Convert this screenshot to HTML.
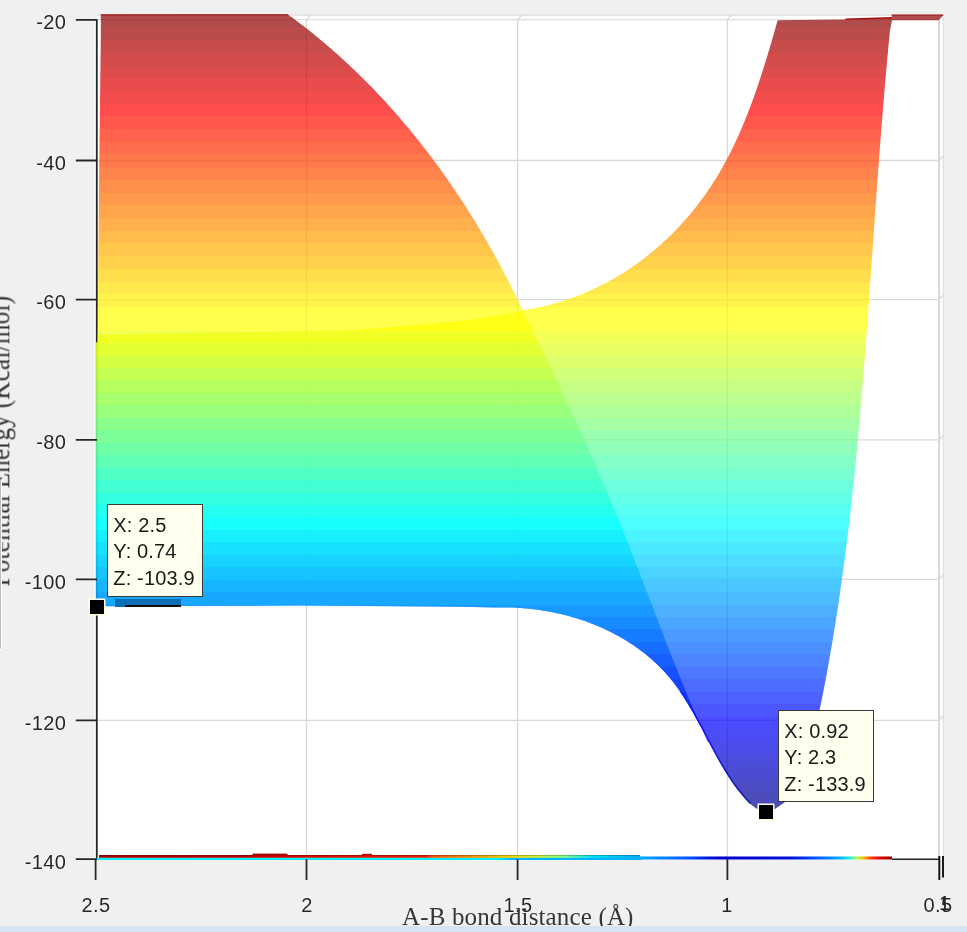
<!DOCTYPE html>
<html><head><meta charset="utf-8"><style>
html,body{margin:0;padding:0;background:#f0f0f0;}
body{width:967px;height:932px;position:relative;overflow:hidden;font-family:"Liberation Sans",sans-serif;}
.yl{position:absolute;left:0;width:66.3px;text-align:right;font-size:20px;letter-spacing:0.35px;line-height:24px;color:#262626;will-change:transform;text-shadow:0 0 1.2px #fff,0 0 1.2px #fff}
.xl{position:absolute;top:892.5px;width:80px;text-align:center;font-size:20px;letter-spacing:0.35px;line-height:24px;color:#262626;will-change:transform;text-shadow:0 0 1.2px #fff,0 0 1.2px #fff}
.tip{position:absolute;background:#ffffee;border:1px solid #3a3a3a;box-sizing:border-box;font-size:20px;letter-spacing:0.15px;line-height:26.7px;color:#1a1a1a;padding-left:5.3px;will-change:transform}
.mk{position:absolute;width:14px;height:14px;background:#000;box-shadow:0 0 0 1.5px #ffffe0;}
</style></head><body>
<svg width="967" height="932" viewBox="0 0 967 932" style="position:absolute;left:0;top:0"><defs><linearGradient id="jet" gradientUnits="userSpaceOnUse" x1="0" y1="0.0" x2="0" y2="830.00"><stop offset="0.00000" stop-color="#800000"/><stop offset="0.01783" stop-color="#800000"/><stop offset="0.01783" stop-color="#8f0000"/><stop offset="0.03313" stop-color="#8f0000"/><stop offset="0.03313" stop-color="#9f0000"/><stop offset="0.04843" stop-color="#9f0000"/><stop offset="0.04843" stop-color="#af0000"/><stop offset="0.06373" stop-color="#af0000"/><stop offset="0.06373" stop-color="#bf0000"/><stop offset="0.07904" stop-color="#bf0000"/><stop offset="0.07904" stop-color="#cf0000"/><stop offset="0.09434" stop-color="#cf0000"/><stop offset="0.09434" stop-color="#df0000"/><stop offset="0.10964" stop-color="#df0000"/><stop offset="0.10964" stop-color="#ef0000"/><stop offset="0.12494" stop-color="#ef0000"/><stop offset="0.12494" stop-color="#ff0000"/><stop offset="0.14024" stop-color="#ff0000"/><stop offset="0.14024" stop-color="#ff1000"/><stop offset="0.15554" stop-color="#ff1000"/><stop offset="0.15554" stop-color="#ff2000"/><stop offset="0.17084" stop-color="#ff2000"/><stop offset="0.17084" stop-color="#ff3000"/><stop offset="0.18614" stop-color="#ff3000"/><stop offset="0.18614" stop-color="#ff4000"/><stop offset="0.20145" stop-color="#ff4000"/><stop offset="0.20145" stop-color="#ff5000"/><stop offset="0.21675" stop-color="#ff5000"/><stop offset="0.21675" stop-color="#ff6000"/><stop offset="0.23205" stop-color="#ff6000"/><stop offset="0.23205" stop-color="#ff7000"/><stop offset="0.24735" stop-color="#ff7000"/><stop offset="0.24735" stop-color="#ff8000"/><stop offset="0.26265" stop-color="#ff8000"/><stop offset="0.26265" stop-color="#ff8f00"/><stop offset="0.27795" stop-color="#ff8f00"/><stop offset="0.27795" stop-color="#ff9f00"/><stop offset="0.29325" stop-color="#ff9f00"/><stop offset="0.29325" stop-color="#ffaf00"/><stop offset="0.30855" stop-color="#ffaf00"/><stop offset="0.30855" stop-color="#ffbf00"/><stop offset="0.32386" stop-color="#ffbf00"/><stop offset="0.32386" stop-color="#ffcf00"/><stop offset="0.33916" stop-color="#ffcf00"/><stop offset="0.33916" stop-color="#ffdf00"/><stop offset="0.35446" stop-color="#ffdf00"/><stop offset="0.35446" stop-color="#ffef00"/><stop offset="0.36976" stop-color="#ffef00"/><stop offset="0.36976" stop-color="#ffff00"/><stop offset="0.39843" stop-color="#ffff00"/><stop offset="0.39843" stop-color="#efff10"/><stop offset="0.41343" stop-color="#efff10"/><stop offset="0.41343" stop-color="#dfff20"/><stop offset="0.42843" stop-color="#dfff20"/><stop offset="0.42843" stop-color="#cfff30"/><stop offset="0.44343" stop-color="#cfff30"/><stop offset="0.44343" stop-color="#bfff40"/><stop offset="0.45843" stop-color="#bfff40"/><stop offset="0.45843" stop-color="#afff50"/><stop offset="0.47343" stop-color="#afff50"/><stop offset="0.47343" stop-color="#9fff60"/><stop offset="0.48843" stop-color="#9fff60"/><stop offset="0.48843" stop-color="#8fff70"/><stop offset="0.50343" stop-color="#8fff70"/><stop offset="0.50343" stop-color="#80ff80"/><stop offset="0.51843" stop-color="#80ff80"/><stop offset="0.51843" stop-color="#70ff8f"/><stop offset="0.53343" stop-color="#70ff8f"/><stop offset="0.53343" stop-color="#60ff9f"/><stop offset="0.54843" stop-color="#60ff9f"/><stop offset="0.54843" stop-color="#50ffaf"/><stop offset="0.56343" stop-color="#50ffaf"/><stop offset="0.56343" stop-color="#40ffbf"/><stop offset="0.57843" stop-color="#40ffbf"/><stop offset="0.57843" stop-color="#30ffcf"/><stop offset="0.59343" stop-color="#30ffcf"/><stop offset="0.59343" stop-color="#20ffdf"/><stop offset="0.60843" stop-color="#20ffdf"/><stop offset="0.60843" stop-color="#10ffef"/><stop offset="0.62343" stop-color="#10ffef"/><stop offset="0.62343" stop-color="#00ffff"/><stop offset="0.63843" stop-color="#00ffff"/><stop offset="0.63843" stop-color="#00efff"/><stop offset="0.65343" stop-color="#00efff"/><stop offset="0.65343" stop-color="#00dfff"/><stop offset="0.66843" stop-color="#00dfff"/><stop offset="0.66843" stop-color="#00cfff"/><stop offset="0.68343" stop-color="#00cfff"/><stop offset="0.68343" stop-color="#00bfff"/><stop offset="0.69843" stop-color="#00bfff"/><stop offset="0.69843" stop-color="#00afff"/><stop offset="0.71343" stop-color="#00afff"/><stop offset="0.71343" stop-color="#009fff"/><stop offset="0.72843" stop-color="#009fff"/><stop offset="0.72843" stop-color="#008fff"/><stop offset="0.74343" stop-color="#008fff"/><stop offset="0.74343" stop-color="#0080ff"/><stop offset="0.75843" stop-color="#0080ff"/><stop offset="0.75843" stop-color="#0070ff"/><stop offset="0.77343" stop-color="#0070ff"/><stop offset="0.77343" stop-color="#0060ff"/><stop offset="0.78843" stop-color="#0060ff"/><stop offset="0.78843" stop-color="#0050ff"/><stop offset="0.80343" stop-color="#0050ff"/><stop offset="0.80343" stop-color="#0040ff"/><stop offset="0.81843" stop-color="#0040ff"/><stop offset="0.81843" stop-color="#0030ff"/><stop offset="0.83343" stop-color="#0030ff"/><stop offset="0.83343" stop-color="#0020ff"/><stop offset="0.84843" stop-color="#0020ff"/><stop offset="0.84843" stop-color="#0010ff"/><stop offset="0.86343" stop-color="#0010ff"/><stop offset="0.86343" stop-color="#0000ff"/><stop offset="0.87843" stop-color="#0000ff"/><stop offset="0.87843" stop-color="#0000ef"/><stop offset="0.89343" stop-color="#0000ef"/><stop offset="0.89343" stop-color="#0000df"/><stop offset="0.90843" stop-color="#0000df"/><stop offset="0.90843" stop-color="#0000cf"/><stop offset="0.92343" stop-color="#0000cf"/><stop offset="0.92343" stop-color="#0000bf"/><stop offset="0.93843" stop-color="#0000bf"/><stop offset="0.93843" stop-color="#0000af"/><stop offset="0.95343" stop-color="#0000af"/><stop offset="0.95343" stop-color="#00009f"/><stop offset="0.96843" stop-color="#00009f"/><stop offset="0.96843" stop-color="#00008f"/><stop offset="1.00000" stop-color="#00008f"/></linearGradient><linearGradient id="bl" gradientUnits="userSpaceOnUse" x1="99" y1="0" x2="892" y2="0"><stop offset="0.0000" stop-color="#b00000"/><stop offset="0.1904" stop-color="#c00000"/><stop offset="0.2535" stop-color="#d80800"/><stop offset="0.4124" stop-color="#e82000"/><stop offset="0.4199" stop-color="#f85000"/><stop offset="0.4729" stop-color="#fa9000"/><stop offset="0.5221" stop-color="#f0d800"/><stop offset="0.5561" stop-color="#c0f040"/><stop offset="0.5876" stop-color="#80ff80"/><stop offset="0.6217" stop-color="#00e0ff"/><stop offset="0.6570" stop-color="#00c0ff"/><stop offset="0.6822" stop-color="#00a8ff"/><stop offset="0.7137" stop-color="#0080ff"/><stop offset="0.7453" stop-color="#0050ff"/><stop offset="0.7642" stop-color="#0020e0"/><stop offset="0.7831" stop-color="#0000d0"/><stop offset="0.8726" stop-color="#0010d8"/><stop offset="0.9029" stop-color="#0050ff"/><stop offset="0.9319" stop-color="#00a8ff"/><stop offset="0.9470" stop-color="#20f0e0"/><stop offset="0.9559" stop-color="#b0ff40"/><stop offset="0.9647" stop-color="#ffb000"/><stop offset="0.9748" stop-color="#ff3000"/><stop offset="0.9874" stop-color="#d00000"/><stop offset="1.0000" stop-color="#900000"/></linearGradient><linearGradient id="bu" gradientUnits="userSpaceOnUse" x1="96" y1="0" x2="892" y2="0"><stop offset="0.0000" stop-color="#00eeff"/><stop offset="0.5075" stop-color="#00eeff"/><stop offset="0.5201" stop-color="#00b8ff"/><stop offset="0.6834" stop-color="#00b0ff"/><stop offset="0.7148" stop-color="#0080ff"/><stop offset="0.7462" stop-color="#0050ff"/><stop offset="0.7651" stop-color="#0020e0"/><stop offset="0.7839" stop-color="#0000d0"/><stop offset="0.8731" stop-color="#0010d8"/><stop offset="0.9033" stop-color="#0050ff"/><stop offset="0.9322" stop-color="#00a8ff"/><stop offset="0.9472" stop-color="#20f0e0"/><stop offset="0.9560" stop-color="#b0ff40"/><stop offset="0.9648" stop-color="#ffb000"/><stop offset="0.9749" stop-color="#ff3000"/><stop offset="0.9874" stop-color="#d00000"/><stop offset="1.0000" stop-color="#900000"/></linearGradient></defs><rect x="97" y="14.5" width="846" height="845" fill="#ffffff"/><path d="M97,15 H943.8 M97,19.6 H939.2 M943.1,15 V859" stroke="#dedede" stroke-width="1.3" fill="none"/><path d="M939.1,19.5 V859" stroke="#d6d6d6" stroke-width="2" fill="none"/><rect x="940.2" y="20.5" width="2.2" height="836" fill="#ffffff"/><path d="M306.5,19.6 V857 M306.5,19.6 L310.8,15 M517.6,19.6 V857 M517.6,19.6 L521.9,15 M727.4,19.6 V857 M727.4,19.6 L731.6999999999999,15 M97,160.5 H939.1 M939.1,160.5 L943.1,155.9 M97,299.7 H939.1 M939.1,299.7 L943.1,295.09999999999997 M97,439.8 H939.1 M939.1,439.8 L943.1,435.2 M97,579.4 H939.1 M939.1,579.4 L943.1,574.8 M97,720.3 H939.1 M939.1,720.3 L943.1,715.6999999999999" stroke="#d9d9d9" stroke-width="1.3" fill="none"/><path d="M95,20 V880" stroke="#ffffff" stroke-width="1.4" stroke-opacity="0.8" fill="none"/><path d="M96.8,19.3 V859.5" stroke="#262626" stroke-width="1.8" fill="none"/><path d="M100.8,14.5 L287.7,14.3 L289.3,15.5 L291.0,16.7 L292.6,17.8 L294.2,19.0 L295.8,20.2 L297.4,21.5 L299.0,22.7 L300.6,23.9 L302.2,25.1 L303.8,26.3 L305.4,27.6 L307.0,28.8 L308.5,30.1 L310.1,31.3 L311.7,32.6 L313.3,33.8 L314.8,35.1 L316.4,36.4 L317.9,37.6 L319.5,38.9 L321.0,40.2 L322.6,41.5 L324.1,42.8 L325.6,44.1 L327.2,45.4 L328.7,46.7 L330.2,48.0 L331.7,49.3 L333.2,50.7 L334.7,52.0 L336.2,53.3 L337.7,54.6 L339.2,56.0 L340.7,57.3 L342.2,58.7 L343.7,60.0 L345.2,61.4 L346.6,62.8 L348.1,64.1 L349.6,65.5 L351.0,66.9 L352.5,68.3 L354.0,69.7 L355.4,71.0 L356.8,72.4 L358.3,73.8 L359.7,75.2 L361.2,76.7 L362.6,78.1 L364.0,79.5 L365.4,80.9 L366.8,82.3 L368.3,83.8 L369.7,85.2 L371.1,86.6 L372.5,88.1 L373.9,89.5 L375.3,91.0 L376.6,92.4 L378.0,93.9 L379.4,95.4 L380.8,96.8 L382.2,98.3 L383.5,99.8 L384.9,101.2 L386.2,102.7 L387.6,104.2 L388.9,105.7 L390.3,107.2 L391.6,108.7 L393.0,110.2 L394.3,111.7 L395.6,113.2 L397.0,114.7 L398.3,116.3 L399.6,117.8 L400.9,119.3 L402.2,120.8 L403.5,122.4 L404.8,123.9 L406.1,125.4 L407.4,127.0 L408.7,128.5 L410.0,130.1 L411.3,131.6 L412.5,133.2 L413.8,134.8 L415.1,136.3 L416.3,137.9 L417.6,139.5 L418.9,141.0 L420.1,142.6 L421.4,144.2 L422.6,145.8 L423.8,147.4 L425.1,149.0 L426.3,150.6 L427.5,152.2 L428.7,153.8 L430.0,155.4 L431.2,157.0 L432.4,158.6 L433.6,160.2 L434.8,161.8 L436.0,163.4 L437.2,165.1 L438.4,166.7 L439.6,168.3 L440.7,170.0 L441.9,171.6 L443.1,173.2 L444.3,174.9 L445.4,176.5 L446.6,178.2 L447.7,179.8 L448.9,181.5 L450.0,183.1 L451.2,184.8 L452.3,186.5 L453.5,188.1 L454.6,189.8 L455.7,191.5 L456.8,193.1 L458.0,194.8 L459.1,196.5 L460.2,198.2 L461.3,199.9 L462.4,201.6 L463.5,203.2 L464.6,204.9 L465.7,206.6 L466.8,208.3 L467.8,210.0 L468.9,211.7 L470.0,213.4 L471.1,215.2 L472.1,216.9 L473.2,218.6 L474.3,220.3 L475.3,222.0 L476.4,223.7 L477.4,225.5 L478.4,227.2 L479.5,228.9 L480.5,230.6 L481.5,232.4 L482.6,234.1 L483.6,235.8 L484.6,237.6 L485.6,239.3 L486.6,241.1 L487.6,242.8 L488.6,244.6 L489.6,246.3 L490.6,248.1 L491.6,249.8 L492.6,251.6 L493.6,253.3 L494.5,255.1 L495.5,256.9 L496.5,258.6 L497.4,260.4 L498.4,262.2 L499.3,263.9 L500.3,265.7 L501.2,267.5 L502.2,269.3 L503.1,271.0 L504.1,272.8 L505.0,274.6 L505.9,276.4 L506.8,278.2 L507.7,280.0 L508.7,281.7 L509.6,283.5 L510.5,285.3 L511.4,287.1 L512.3,288.9 L513.2,290.7 L514.1,292.5 L514.9,294.3 L515.8,296.1 L516.7,297.9 L517.6,299.7 L518.4,301.5 L519.3,303.3 L520.2,305.2 L521.0,307.0 L521.9,308.8 L522.7,310.6 L523.1,310.3 L525.1,310.0 L527.2,309.6 L529.3,309.3 L531.3,308.9 L533.4,308.5 L535.4,308.1 L537.4,307.7 L539.5,307.3 L541.5,306.8 L543.5,306.4 L545.5,305.9 L547.5,305.4 L549.5,304.9 L551.5,304.4 L553.5,303.8 L555.4,303.3 L557.4,302.7 L559.4,302.1 L561.3,301.5 L563.3,300.9 L565.2,300.3 L567.1,299.6 L569.0,299.0 L571.0,298.3 L572.9,297.6 L574.8,296.9 L576.7,296.2 L578.6,295.5 L580.4,294.7 L582.3,294.0 L584.2,293.2 L586.0,292.4 L587.9,291.6 L589.7,290.8 L591.6,290.0 L593.4,289.1 L595.2,288.3 L597.0,287.4 L598.8,286.5 L600.6,285.6 L602.4,284.7 L604.2,283.8 L606.0,282.9 L607.8,281.9 L609.5,281.0 L611.3,280.0 L613.0,279.0 L614.7,278.0 L616.5,277.0 L618.2,276.0 L619.9,275.0 L621.6,273.9 L623.3,272.9 L625.0,271.8 L626.7,270.7 L628.3,269.6 L630.0,268.5 L631.7,267.4 L633.3,266.3 L634.9,265.1 L636.6,264.0 L638.2,262.8 L639.8,261.6 L641.4,260.4 L643.0,259.2 L644.6,258.0 L646.2,256.8 L647.7,255.6 L649.3,254.3 L650.8,253.1 L652.4,251.8 L653.9,250.5 L655.4,249.2 L656.9,247.9 L658.5,246.6 L659.9,245.3 L661.4,244.0 L662.9,242.6 L664.4,241.3 L665.8,239.9 L667.3,238.5 L668.7,237.2 L670.2,235.8 L671.6,234.4 L673.0,233.0 L674.4,231.5 L675.8,230.1 L677.2,228.7 L678.6,227.2 L679.9,225.7 L681.3,224.3 L682.6,222.8 L684.0,221.3 L685.3,219.8 L686.6,218.3 L687.9,216.8 L689.2,215.3 L690.5,213.7 L691.8,212.2 L693.0,210.6 L694.3,209.1 L695.5,207.5 L696.8,205.9 L698.0,204.3 L699.2,202.8 L700.4,201.1 L701.6,199.5 L702.8,197.9 L704.0,196.3 L705.2,194.7 L706.3,193.0 L707.5,191.4 L708.6,189.7 L709.7,188.0 L710.8,186.4 L711.9,184.7 L713.0,183.0 L714.1,181.3 L715.2,179.6 L716.2,177.9 L717.3,176.2 L718.3,174.4 L719.4,172.7 L720.4,171.0 L721.4,169.2 L722.4,167.5 L723.4,165.7 L724.3,163.9 L725.3,162.2 L726.3,160.4 L727.2,158.6 L728.2,156.8 L729.1,155.0 L730.0,153.2 L730.9,151.4 L731.8,149.6 L732.7,147.8 L733.6,146.0 L734.5,144.1 L735.3,142.3 L736.2,140.5 L737.0,138.6 L737.9,136.8 L738.7,134.9 L739.5,133.1 L740.4,131.2 L741.2,129.3 L742.0,127.5 L742.8,125.6 L743.5,123.7 L744.3,121.9 L745.1,120.0 L745.8,118.1 L746.6,116.2 L747.4,114.3 L748.1,112.4 L748.8,110.5 L749.6,108.6 L750.3,106.7 L751.0,104.8 L751.7,102.9 L752.4,101.0 L753.1,99.1 L753.8,97.2 L754.5,95.2 L755.2,93.3 L755.8,91.4 L756.5,89.5 L757.2,87.6 L757.8,85.6 L758.5,83.7 L759.1,81.8 L759.7,79.8 L760.4,77.9 L761.0,76.0 L761.6,74.1 L762.3,72.1 L762.9,70.2 L763.5,68.3 L764.1,66.3 L764.7,64.4 L765.3,62.5 L765.9,60.5 L766.5,58.6 L767.1,56.7 L767.7,54.7 L768.2,52.8 L768.8,50.9 L769.4,48.9 L770.0,47.0 L770.5,45.1 L771.1,43.2 L771.7,41.2 L772.2,39.3 L772.8,37.4 L773.3,35.5 L773.9,33.6 L774.4,31.6 L775.0,29.7 L775.5,27.8 L776.0,25.9 L776.6,24.0 L777.1,22.1 L777.7,20.2 L845.5,19.6 L881.8,18.3 L891.7,17.7 L891.7,14.7 L943.7,14.7 L938.8,20.2 L892.0,20.2 L890.0,30.4 L889.8,32.4 L889.6,34.4 L889.4,36.4 L889.2,38.4 L889.0,40.4 L888.8,42.4 L888.6,44.4 L888.4,46.4 L888.2,48.4 L888.0,50.4 L887.9,52.4 L887.7,54.4 L887.5,56.4 L887.3,58.4 L887.1,60.4 L886.9,62.4 L886.8,64.4 L886.6,66.4 L886.4,68.4 L886.2,70.4 L886.0,72.4 L885.9,74.4 L885.7,76.4 L885.5,78.4 L885.3,80.4 L885.2,82.4 L885.0,84.4 L884.8,86.4 L884.7,88.4 L884.5,90.4 L884.3,92.4 L884.1,94.4 L884.0,96.4 L883.8,98.4 L883.6,100.4 L883.5,102.4 L883.3,104.4 L883.1,106.4 L883.0,108.4 L882.8,110.4 L882.7,112.4 L882.5,114.4 L882.3,116.4 L882.2,118.4 L882.0,120.4 L881.9,122.4 L881.7,124.4 L881.5,126.4 L881.4,128.4 L881.2,130.4 L881.1,132.4 L880.9,134.4 L880.8,136.4 L880.6,138.4 L880.4,140.4 L880.3,142.4 L880.1,144.4 L880.0,146.4 L879.8,148.4 L879.7,150.4 L879.5,152.4 L879.4,154.4 L879.2,156.4 L879.1,158.5 L878.9,160.5 L878.8,162.5 L878.6,164.5 L878.5,166.5 L878.3,168.5 L878.2,170.5 L878.0,172.5 L877.9,174.5 L877.8,176.5 L877.6,178.5 L877.5,180.5 L877.3,182.5 L877.2,184.5 L877.0,186.5 L876.9,188.5 L876.7,190.5 L876.6,192.5 L876.4,194.5 L876.3,196.5 L876.2,198.6 L876.0,200.6 L875.9,202.6 L875.7,204.6 L875.6,206.6 L875.5,208.6 L875.3,210.6 L875.2,212.6 L875.0,214.6 L874.9,216.6 L874.7,218.6 L874.6,220.6 L874.5,222.6 L874.3,224.6 L874.2,226.6 L874.0,228.6 L873.9,230.6 L873.8,232.7 L873.6,234.7 L873.5,236.7 L873.3,238.7 L873.2,240.7 L873.1,242.7 L872.9,244.7 L872.8,246.7 L872.6,248.7 L872.5,250.7 L872.4,252.7 L872.2,254.7 L872.1,256.7 L871.9,258.7 L871.8,260.7 L871.7,262.8 L871.5,264.8 L871.4,266.8 L871.2,268.8 L871.1,270.8 L871.0,272.8 L870.8,274.8 L870.7,276.8 L870.5,278.8 L870.4,280.8 L870.3,282.8 L870.1,284.8 L870.0,286.8 L869.8,288.8 L869.7,290.8 L869.5,292.8 L869.4,294.9 L869.3,296.9 L869.1,298.9 L869.0,300.9 L868.8,302.9 L868.7,304.9 L868.5,306.9 L868.4,308.9 L868.3,310.9 L868.1,312.9 L868.0,314.9 L867.8,316.9 L867.7,318.9 L867.5,320.9 L867.4,322.9 L867.2,324.9 L867.1,327.0 L866.9,329.0 L866.8,331.0 L866.6,333.0 L866.5,335.0 L866.3,337.0 L866.2,339.0 L866.0,341.0 L865.9,343.0 L865.7,345.0 L865.6,347.0 L865.4,349.0 L865.3,351.0 L865.1,353.0 L865.0,355.0 L864.8,357.0 L864.7,359.0 L864.5,361.0 L864.3,363.0 L864.2,365.1 L864.0,367.1 L863.9,369.1 L863.7,371.1 L863.6,373.1 L863.4,375.1 L863.2,377.1 L863.1,379.1 L862.9,381.1 L862.8,383.1 L862.6,385.1 L862.4,387.1 L862.3,389.1 L862.1,391.1 L861.9,393.1 L861.8,395.1 L861.6,397.1 L861.4,399.1 L861.3,401.1 L861.1,403.1 L860.9,405.1 L860.7,407.1 L860.6,409.1 L860.4,411.1 L860.2,413.1 L860.1,415.1 L859.9,417.2 L859.7,419.2 L859.5,421.2 L859.3,423.2 L859.2,425.2 L859.0,427.2 L858.8,429.2 L858.6,431.2 L858.4,433.2 L858.3,435.2 L858.1,437.2 L857.9,439.2 L857.7,441.2 L857.5,443.2 L857.3,445.2 L857.1,447.2 L857.0,449.2 L856.8,451.2 L856.6,453.2 L856.4,455.2 L856.2,457.2 L856.0,459.2 L855.8,461.2 L855.6,463.2 L855.4,465.2 L855.2,467.2 L855.0,469.2 L854.8,471.2 L854.6,473.2 L854.4,475.2 L854.2,477.2 L854.0,479.2 L853.8,481.2 L853.6,483.2 L853.4,485.2 L853.1,487.2 L852.9,489.2 L852.7,491.2 L852.5,493.2 L852.3,495.2 L852.1,497.1 L851.9,499.1 L851.6,501.1 L851.4,503.1 L851.2,505.1 L851.0,507.1 L850.7,509.1 L850.5,511.1 L850.3,513.1 L850.1,515.1 L849.8,517.1 L849.6,519.1 L849.4,521.1 L849.1,523.1 L848.9,525.1 L848.7,527.1 L848.4,529.1 L848.2,531.1 L848.0,533.1 L847.7,535.1 L847.5,537.1 L847.2,539.0 L847.0,541.0 L846.7,543.0 L846.5,545.0 L846.2,547.0 L846.0,549.0 L845.7,551.0 L845.5,553.0 L845.2,555.0 L845.0,557.0 L844.7,559.0 L844.4,561.0 L844.2,562.9 L843.9,564.9 L843.6,566.9 L843.4,568.9 L843.1,570.9 L842.8,572.9 L842.6,574.9 L842.3,576.9 L842.0,578.9 L841.7,580.9 L841.5,582.8 L841.2,584.8 L840.9,586.8 L840.6,588.8 L840.3,590.8 L840.0,592.8 L839.7,594.8 L839.5,596.8 L839.2,598.7 L838.9,600.7 L838.6,602.7 L838.3,604.7 L838.0,606.7 L837.7,608.7 L837.4,610.7 L837.1,612.6 L836.8,614.6 L836.4,616.6 L836.1,618.6 L835.8,620.6 L835.5,622.6 L835.2,624.6 L834.9,626.5 L834.6,628.5 L834.2,630.5 L833.9,632.5 L833.6,634.5 L833.3,636.4 L832.9,638.4 L832.6,640.4 L832.3,642.4 L831.9,644.4 L831.6,646.4 L831.3,648.3 L830.9,650.3 L830.6,652.3 L830.2,654.3 L829.9,656.3 L829.5,658.2 L829.2,660.2 L828.8,662.2 L828.5,664.2 L828.1,666.1 L827.8,668.1 L827.4,670.1 L827.0,672.1 L826.7,674.1 L826.3,676.0 L825.9,678.0 L825.6,680.0 L825.2,682.0 L824.8,683.9 L824.4,685.9 L824.0,687.9 L823.7,689.9 L823.3,691.8 L822.9,693.8 L822.5,695.8 L822.1,697.7 L821.7,699.7 L821.3,701.7 L820.9,703.7 L820.5,705.6 L820.1,707.6 L819.7,709.6 L819.3,711.6 L818.9,713.5 L818.5,715.5 L818.1,717.5 L817.6,719.4 L817.2,721.4 L816.8,723.4 L816.4,725.3 L816.0,727.3 L815.5,729.3 L815.1,731.2 L814.7,733.2 L814.2,735.2 L813.8,737.1 L813.3,739.1 L812.9,741.1 L812.5,743.0 L812.0,745.0 L800.0,780.0 L790.0,797.0 L784.4,802.6 L774.5,809.2 L766.0,811.0 L756.3,808.4 L749.6,803.4 L748.2,802.0 L746.9,800.5 L745.5,799.1 L744.2,797.6 L742.9,796.1 L741.6,794.6 L740.4,793.1 L739.1,791.5 L737.9,790.0 L736.7,788.4 L735.5,786.8 L734.3,785.2 L733.2,783.6 L732.0,781.9 L730.9,780.3 L729.8,778.6 L728.7,777.0 L727.6,775.3 L726.5,773.6 L725.5,771.9 L724.4,770.2 L723.4,768.4 L722.3,766.7 L721.3,764.9 L720.3,763.2 L719.3,761.4 L718.3,759.7 L717.3,757.9 L716.3,756.1 L715.3,754.3 L714.4,752.5 L713.4,750.7 L712.4,748.9 L711.5,747.1 L710.5,745.3 L709.5,743.5 L708.6,741.7 L707.6,739.9 L706.7,738.1 L705.7,736.3 L704.8,734.5 L703.8,732.6 L702.9,730.8 L701.9,729.0 L701.0,727.2 L700.0,725.4 L699.0,723.6 L698.1,721.8 L697.1,720.0 L696.1,718.2 L695.1,716.4 L694.2,714.7 L693.2,712.9 L692.2,711.1 L691.2,709.4 L690.1,707.6 L689.1,705.9 L688.1,704.1 L687.0,702.4 L686.0,700.7 L684.9,699.0 L683.8,697.3 L682.7,695.6 L681.6,693.9 L680.5,692.3 L679.4,690.6 L678.2,689.0 L677.1,687.4 L675.9,685.8 L674.7,684.2 L673.5,682.6 L672.3,681.0 L671.0,679.5 L669.8,678.0 L668.5,676.5 L667.2,675.0 L665.9,673.5 L664.6,672.0 L663.2,670.6 L661.8,669.2 L660.5,667.7 L659.1,666.3 L657.7,665.0 L656.2,663.6 L654.8,662.3 L653.3,660.9 L651.9,659.6 L650.4,658.3 L648.9,657.0 L647.4,655.8 L645.9,654.5 L644.3,653.3 L642.8,652.1 L641.2,650.9 L639.6,649.7 L638.0,648.5 L636.4,647.4 L634.8,646.3 L633.1,645.1 L631.5,644.0 L629.8,642.9 L628.2,641.9 L626.5,640.8 L624.8,639.8 L623.1,638.8 L621.4,637.8 L619.6,636.8 L617.9,635.8 L616.1,634.9 L614.4,633.9 L612.6,633.0 L610.8,632.1 L609.0,631.2 L607.2,630.3 L605.4,629.5 L603.6,628.6 L601.8,627.8 L599.9,627.0 L598.1,626.2 L596.2,625.4 L594.4,624.7 L592.5,624.0 L590.6,623.2 L588.7,622.5 L586.9,621.8 L585.0,621.1 L583.0,620.5 L581.1,619.8 L579.2,619.2 L577.3,618.6 L575.3,618.0 L573.4,617.4 L571.5,616.9 L569.5,616.3 L567.5,615.8 L565.6,615.3 L563.6,614.8 L561.6,614.3 L559.7,613.8 L557.7,613.4 L555.7,613.0 L553.7,612.5 L551.7,612.1 L549.7,611.8 L547.7,611.4 L545.7,611.0 L543.7,610.7 L541.7,610.4 L539.7,610.1 L537.6,609.8 L535.6,609.5 L533.6,609.3 L531.6,609.0 L529.5,608.8 L527.5,608.6 L525.5,608.4 L523.4,608.2 L521.4,608.1 L519.4,607.9 L517.4,607.8 L515.3,607.7 L513.3,607.6 L511.2,607.5 L509.2,607.5 L507.2,607.4 L505.1,607.4 L503.1,607.4 L501.1,607.4 L499.0,607.4 L497.0,607.5 L495.0,607.5 L460.0,606.7 L300.0,605.5 L96.0,606.2 L96.0,342.5 L97.7,342.5 L97.7,333.5 L99.3,160.0 L100.8,38.0 L100.8,14.5 Z" fill="url(#jet)" fill-opacity="0.7"/><path d="M97.7,334.6 L160.0,333.2 L250.0,332.0 L350.0,330.5 L380.0,328.1 L429.7,323.9 L471.0,319.8 L512.4,313.2 L522.6,310.7 L525.8,317.2 L526.7,319.0 L527.6,320.8 L528.5,322.6 L529.4,324.4 L530.3,326.2 L531.2,328.0 L532.1,329.8 L533.0,331.7 L533.9,333.5 L534.7,335.3 L535.6,337.1 L536.5,338.9 L537.4,340.7 L538.3,342.5 L539.2,344.3 L540.1,346.1 L541.0,348.0 L541.8,349.8 L542.7,351.6 L543.6,353.4 L544.5,355.2 L545.4,357.0 L546.3,358.8 L547.1,360.7 L548.0,362.5 L548.9,364.3 L549.8,366.1 L550.6,367.9 L551.5,369.7 L552.4,371.6 L553.3,373.4 L554.1,375.2 L555.0,377.0 L555.9,378.8 L556.7,380.7 L557.6,382.5 L558.5,384.3 L559.3,386.1 L560.2,387.9 L561.1,389.8 L561.9,391.6 L562.8,393.4 L563.6,395.2 L564.5,397.1 L565.4,398.9 L566.2,400.7 L567.1,402.5 L567.9,404.4 L568.8,406.2 L569.6,408.0 L570.5,409.9 L571.3,411.7 L572.2,413.5 L573.0,415.3 L573.9,417.2 L574.7,419.0 L575.6,420.8 L576.4,422.7 L577.2,424.5 L578.1,426.3 L578.9,428.2 L579.8,430.0 L580.6,431.8 L581.4,433.7 L582.3,435.5 L583.1,437.4 L583.9,439.2 L584.8,441.0 L585.6,442.9 L586.4,444.7 L587.2,446.5 L588.1,448.4 L588.9,450.2 L589.7,452.1 L590.5,453.9 L591.3,455.8 L592.2,457.6 L593.0,459.4 L593.8,461.3 L594.6,463.1 L595.4,465.0 L596.2,466.8 L597.0,468.7 L597.8,470.5 L598.6,472.4 L599.4,474.2 L600.2,476.1 L601.0,477.9 L601.8,479.8 L602.6,481.6 L603.4,483.5 L604.2,485.3 L605.0,487.2 L605.8,489.0 L606.6,490.9 L607.4,492.7 L608.2,494.6 L608.9,496.4 L609.7,498.3 L610.5,500.2 L611.3,502.0 L612.1,503.9 L612.8,505.7 L613.6,507.6 L614.4,509.5 L615.2,511.3 L615.9,513.2 L616.7,515.0 L617.5,516.9 L618.2,518.8 L619.0,520.6 L619.7,522.5 L620.5,524.4 L621.3,526.2 L622.0,528.1 L622.8,530.0 L623.5,531.8 L624.3,533.7 L625.0,535.6 L625.8,537.5 L626.5,539.3 L627.2,541.2 L628.0,543.1 L628.7,544.9 L629.5,546.8 L630.2,548.7 L630.9,550.6 L631.7,552.4 L632.4,554.3 L633.1,556.2 L633.9,558.1 L634.6,559.9 L635.3,561.8 L636.1,563.7 L636.8,565.6 L637.5,567.5 L638.2,569.3 L639.0,571.2 L639.7,573.1 L640.4,575.0 L641.1,576.9 L641.9,578.7 L642.6,580.6 L643.3,582.5 L644.0,584.4 L644.7,586.3 L645.5,588.1 L646.2,590.0 L646.9,591.9 L647.6,593.8 L648.3,595.7 L649.1,597.5 L649.8,599.4 L650.5,601.3 L651.2,603.2 L651.9,605.1 L652.7,606.9 L653.4,608.8 L654.1,610.7 L654.8,612.6 L655.5,614.5 L656.3,616.4 L657.0,618.2 L657.7,620.1 L658.4,622.0 L659.1,623.9 L659.9,625.8 L660.6,627.6 L661.3,629.5 L662.0,631.4 L662.8,633.3 L663.5,635.1 L664.2,637.0 L664.9,638.9 L665.7,640.8 L666.4,642.7 L667.1,644.5 L667.8,646.4 L668.6,648.3 L669.3,650.2 L670.0,652.0 L670.8,653.9 L671.5,655.8 L672.3,657.7 L673.0,659.5 L673.7,661.4 L674.5,663.3 L675.2,665.1 L676.0,667.0 L676.7,668.9 L677.5,670.8 L678.2,672.6 L679.0,674.5 L679.7,676.4 L680.5,678.2 L681.2,680.1 L682.0,682.0 L682.7,683.8 L683.5,685.7 L684.3,687.6 L685.0,689.4 L685.8,691.3 L686.6,693.1 L687.3,695.0 L688.1,696.9 L688.9,698.7 L689.7,700.6 L690.4,702.4 L691.2,704.3 L692.0,706.1 L692.8,708.0 L693.6,709.8 L694.4,711.7 L695.2,713.5 L696.0,715.4 L696.8,717.2 L697.6,719.1 L698.4,720.9 L699.2,722.8 L700.0,724.6 L700.8,726.5 L701.6,728.3 L702.5,730.1 L703.3,732.0 L704.1,733.8 L705.0,735.7 L705.8,737.5 L706.6,739.3 L707.5,741.2 L708.3,743.0 L708.6,741.7 L707.6,739.9 L706.7,738.1 L705.7,736.3 L704.8,734.5 L703.8,732.6 L702.9,730.8 L701.9,729.0 L701.0,727.2 L700.0,725.4 L699.0,723.6 L698.1,721.8 L697.1,720.0 L696.1,718.2 L695.1,716.4 L694.2,714.7 L693.2,712.9 L692.2,711.1 L691.2,709.4 L690.1,707.6 L689.1,705.9 L688.1,704.1 L687.0,702.4 L686.0,700.7 L684.9,699.0 L683.8,697.3 L682.7,695.6 L681.6,693.9 L680.5,692.3 L679.4,690.6 L678.2,689.0 L677.1,687.4 L675.9,685.8 L674.7,684.2 L673.5,682.6 L672.3,681.0 L671.0,679.5 L669.8,678.0 L668.5,676.5 L667.2,675.0 L665.9,673.5 L664.6,672.0 L663.2,670.6 L661.8,669.2 L660.5,667.7 L659.1,666.3 L657.7,665.0 L656.2,663.6 L654.8,662.3 L653.3,660.9 L651.9,659.6 L650.4,658.3 L648.9,657.0 L647.4,655.8 L645.9,654.5 L644.3,653.3 L642.8,652.1 L641.2,650.9 L639.6,649.7 L638.0,648.5 L636.4,647.4 L634.8,646.3 L633.1,645.1 L631.5,644.0 L629.8,642.9 L628.2,641.9 L626.5,640.8 L624.8,639.8 L623.1,638.8 L621.4,637.8 L619.6,636.8 L617.9,635.8 L616.1,634.9 L614.4,633.9 L612.6,633.0 L610.8,632.1 L609.0,631.2 L607.2,630.3 L605.4,629.5 L603.6,628.6 L601.8,627.8 L599.9,627.0 L598.1,626.2 L596.2,625.4 L594.4,624.7 L592.5,624.0 L590.6,623.2 L588.7,622.5 L586.9,621.8 L585.0,621.1 L583.0,620.5 L581.1,619.8 L579.2,619.2 L577.3,618.6 L575.3,618.0 L573.4,617.4 L571.5,616.9 L569.5,616.3 L567.5,615.8 L565.6,615.3 L563.6,614.8 L561.6,614.3 L559.7,613.8 L557.7,613.4 L555.7,613.0 L553.7,612.5 L551.7,612.1 L549.7,611.8 L547.7,611.4 L545.7,611.0 L543.7,610.7 L541.7,610.4 L539.7,610.1 L537.6,609.8 L535.6,609.5 L533.6,609.3 L531.6,609.0 L529.5,608.8 L527.5,608.6 L525.5,608.4 L523.4,608.2 L521.4,608.1 L519.4,607.9 L517.4,607.8 L515.3,607.7 L513.3,607.6 L511.2,607.5 L509.2,607.5 L507.2,607.4 L505.1,607.4 L503.1,607.4 L501.1,607.4 L499.0,607.4 L497.0,607.5 L495.0,607.5 L460.0,606.7 L300.0,605.5 L96.0,606.2 L96.0,342.5 L97.7,342.5 Z" fill="url(#jet)" fill-opacity="0.7"/><path d="M750.4,803.4 L749.0,802.0 L747.7,800.5 L746.3,799.1 L745.0,797.6 L743.7,796.1 L742.4,794.6 L741.2,793.1 L739.9,791.5 L738.7,790.0 L737.5,788.4 L736.3,786.8 L735.1,785.2 L734.0,783.6 L732.8,781.9 L731.7,780.3 L730.6,778.6 L729.5,777.0 L728.4,775.3 L727.3,773.6 L726.3,771.9 L725.2,770.2 L724.2,768.4 L723.1,766.7 L722.1,764.9 L721.1,763.2 L720.1,761.4 L719.1,759.7 L718.1,757.9 L717.1,756.1 L716.1,754.3 L715.2,752.5 L714.2,750.7 L713.2,748.9 L712.3,747.1 L711.3,745.3 L710.3,743.5 L709.4,741.7 L708.4,739.9 L707.5,738.1 L706.5,736.3 L705.6,734.5 L704.6,732.6 L703.7,730.8 L702.7,729.0 L701.8,727.2 L700.8,725.4 L699.8,723.6 L698.9,721.8 L697.9,720.0 L696.9,718.2 L695.9,716.4 L695.0,714.7 L694.0,712.9 L693.0,711.1 L692.0,709.4 L690.9,707.6 L689.9,705.9 L688.9,704.1 L687.8,702.4 L686.8,700.7 L685.7,699.0 L684.6,697.3 L683.5,695.6 L682.4,693.9 L681.3,692.3 L680.2,690.6" stroke="url(#jet)" stroke-opacity="0.7" stroke-width="1.6" fill="none"/><path d="M100.8,14.9 H287.6" stroke="#a02828" stroke-width="1.3" fill="none"/><path d="M891.7,15.1 H943.2" stroke="#a02020" stroke-width="1" fill="none"/><path d="M845.5,19.2 L891.7,17.8" stroke="#a01010" stroke-width="1.6" fill="none"/><rect x="99" y="855" width="541" height="2.9" fill="url(#bl)"/><rect x="99" y="855" width="541" height="0.9" fill="#000" fill-opacity="0.25"/><rect x="96" y="857.8" width="544" height="2.2" fill="url(#bu)"/><rect x="640" y="856.5" width="252" height="3" fill="url(#bl)"/><path d="M638,857.8 L642,856.5 V860 H638 Z" fill="url(#bu)"/><rect x="252.5" y="853.6" width="35" height="2" fill="#b00000"/><rect x="362" y="853.8" width="10" height="1.6" fill="#d00000"/><path d="M892,859.3 H939" stroke="#262626" stroke-width="1.6" fill="none"/><path d="M306.5,859 V880 M517.6,859 V880 M727.4,859 V880 M95.6,859 V880" stroke="#262626" stroke-width="1.8" fill="none"/><path d="M939.3,856 V880 M943,856 V877.5" stroke="#111" stroke-width="1.9" fill="none"/><path d="M75.8,19.9 H97 M75.8,160.5 H97 M75.8,299.7 H97 M75.8,439.8 H97 M75.8,579.4 H97 M75.8,720.3 H97 M75.8,859.2 H97" stroke="#262626" stroke-width="1.8" fill="none"/></svg>
<div class="yl" style="top:10.399999999999999px">-20</div><div class="yl" style="top:151.0px">-40</div><div class="yl" style="top:290.2px">-60</div><div class="yl" style="top:430.3px">-80</div><div class="yl" style="top:569.9px">-100</div><div class="yl" style="top:710.8px">-120</div><div class="yl" style="top:849.7px">-140</div>
<div class="xl" style="left:55.599999999999994px">2.5</div><div class="xl" style="left:266.5px">2</div><div class="xl" style="left:477.6px">1.5</div><div class="xl" style="left:687.4px">1</div><div class="xl" style="left:897.5px">0.5</div>
<div style="position:absolute;left:939.2px;top:890.5px;font-size:20px;line-height:24px;color:#262626;will-change:transform">1</div>
<div style="position:absolute;left:115px;top:599px;width:65.5px;height:7.5px;background:#0a6fb4"></div>
<div style="position:absolute;left:125px;top:605px;width:55.5px;height:1.6px;background:#111"></div>
<div class="tip" style="left:107px;top:504px;width:96px;height:92.5px;padding-top:6.6px">X: 2.5<br>Y: 0.74<br>Z: -103.9</div>
<div class="mk" style="left:90px;top:600.3px"></div>
<div class="tip" style="left:778px;top:709.5px;width:95.5px;height:92px;padding-top:6.6px">X: 0.92<br>Y: 2.3<br>Z: -133.9</div>
<div class="mk" style="left:759px;top:805px"></div>
<div style="position:absolute;left:402px;top:902px;font-family:'Liberation Serif',serif;font-size:25px;letter-spacing:0.15px;line-height:30px;color:#363636;white-space:nowrap;will-change:transform">A-B bond distance (Å)</div>
<div style="position:absolute;left:0;top:925.5px;width:967px;height:7px;background:#d6e3f2"></div>
<div style="position:absolute;left:0;top:480px;width:1px;height:169px;background:#bdbdbd;border-right:1.5px solid #fff;border-bottom:1.5px solid #fff;z-index:5"></div>
<div style="position:absolute;left:0;top:441px;width:0;height:0;">
 <div id="ylab" style="position:absolute;left:0;top:0;transform-origin:0 0;transform:translate(10.1px,145.5px) rotate(-90deg) scaleY(1.15) translateY(-21.4px);font-family:'Liberation Serif',serif;font-size:25px;letter-spacing:0.3px;line-height:26px;color:#303030;white-space:nowrap;will-change:transform">Potential Energy (Kcal/mol)</div>
</div>
</body></html>
